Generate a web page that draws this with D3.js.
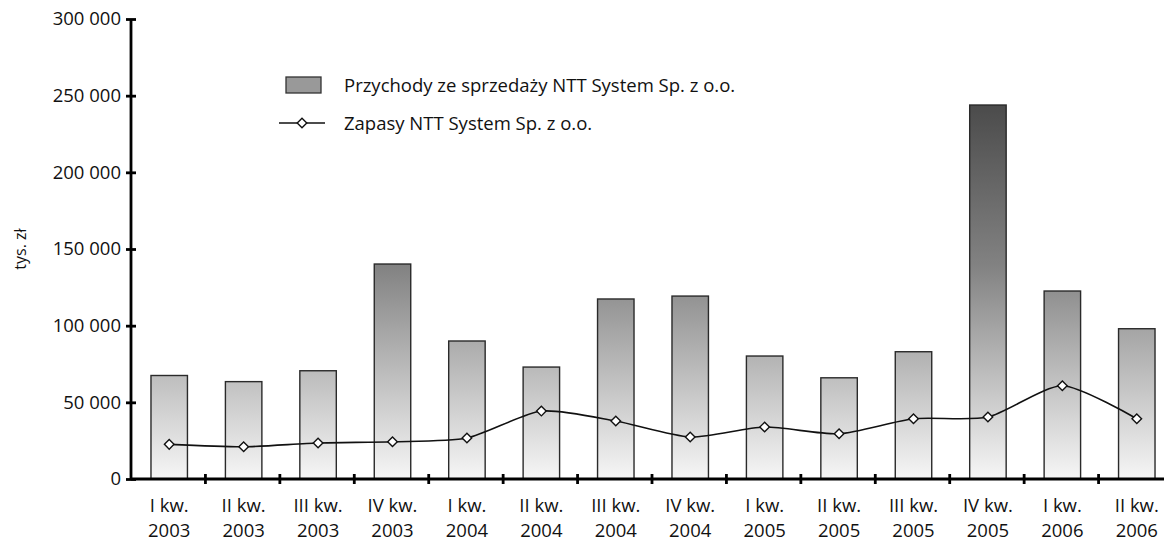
<!DOCTYPE html>
<html>
<head>
<meta charset="utf-8">
<script src="https://cdn.jsdelivr.net/npm/d3@7"></script>
<style>
  body { margin: 0; background: #fff; }
  svg, svg text { font-family: "Open Sans", sans-serif; }
</style>
</head>
<body>
<svg id="chart"></svg>
<script>
const quarters = ["I kw.", "II kw.", "III kw.", "IV kw.", "I kw.", "II kw.", "III kw.", "IV kw.", "I kw.", "II kw.", "III kw.", "IV kw.", "I kw.", "II kw."]
const years = ["2003", "2003", "2003", "2003", "2004", "2004", "2004", "2004", "2005", "2005", "2005", "2005", "2006", "2006"]
const przychody = [67500, 63500, 70600, 140200, 90000, 73000, 117400, 119300, 80200, 66000, 83000, 243900, 122600, 98000]
const zapasy = [22600, 21000, 23500, 24300, 26700, 44300, 37800, 27400, 33900, 29500, 39300, 40400, 60800, 39300]
const yTicks = [0, 50000, 100000, 150000, 200000, 250000, 300000]
const seriesNames = ["Przychody ze sprzedaży NTT System Sp. z o.o.", "Zapasy NTT System Sp. z o.o."]

const width = 1164, height = 542
const margin = {top: 19, right: -9, bottom: 63, left: 131}
const fontSize = 18.5

const locale = d3.formatLocale({decimal: ",", thousands: " ", grouping: [3], currency: ["", " zł"]})
const fmt = locale.format(",d")

const svg = d3.select("#chart").attr("width", width).attr("height", height)

const labels = quarters.map((q, i) => `${q}|${years[i]}`)

const x = d3.scaleBand()
    .domain(labels)
    .range([margin.left + 1, width - margin.right + 1])
    .paddingInner(0.51)
    .paddingOuter(0.255)

const xTicks = d3.scaleBand().domain(labels).range([margin.left, width - margin.right])

const y = d3.scaleLinear()
    .domain([0, 300000])
    .range([height - margin.bottom, margin.top])

// shading follows the value axis, same for every bar
const defs = svg.append("defs")
const grad = defs.append("linearGradient")
    .attr("id", "barGrad")
    .attr("gradientUnits", "userSpaceOnUse")
    .attr("x1", 0).attr("x2", 0)
    .attr("y1", y(0)).attr("y2", y(244000))
grad.append("stop").attr("offset", "0%").attr("stop-color", "#f6f6f6")
grad.append("stop").attr("offset", "57%").attr("stop-color", "#828282")
grad.append("stop").attr("offset", "100%").attr("stop-color", "#4b4b4b")

// bars
svg.append("g")
    .selectAll("rect")
    .data(przychody)
    .join("rect")
    .attr("x", (d, i) => x(labels[i]))
    .attr("width", x.bandwidth())
    .attr("y", d => y(d))
    .attr("height", d => y(0) - y(d))
    .attr("fill", "url(#barGrad)")
    .attr("stroke", "#2a2a2a")
    .attr("stroke-width", 1.4)

// y axis
const yAxis = svg.append("g")
    .attr("transform", `translate(${margin.left},0)`)
    .call(d3.axisLeft(y).tickValues(yTicks).tickFormat(fmt).tickSize(5).tickPadding(6))
    .attr("font-family", null)
    .attr("font-size", null)
yAxis.select(".domain").attr("stroke-width", 2.8).attr("d", `M0,${y(300000)}V${y(0)}`)
yAxis.selectAll(".tick line").attr("x2", 5).attr("x1", -5).attr("stroke-width", 2.8)
yAxis.selectAll(".tick text").attr("font-size", fontSize).attr("fill", "#111").attr("x", -10)

// x axis
const xAxis = svg.append("g")
    .attr("transform", `translate(0,${y(0)})`)
xAxis.append("line")
    .attr("x1", margin.left).attr("x2", width)
    .attr("stroke", "#000").attr("stroke-width", 2.8)
xAxis.selectAll("line.tick")
    .data(labels.slice(1))
    .join("line")
    .attr("class", "tick")
    .attr("x1", d => xTicks(d)).attr("x2", d => xTicks(d))
    .attr("y1", -5).attr("y2", 5)
    .attr("stroke", "#000").attr("stroke-width", 2.8)
const xl = xAxis.selectAll("text")
    .data(labels)
    .join("text")
    .attr("text-anchor", "middle")
    .attr("font-size", fontSize)
    .attr("fill", "#111")
xl.append("tspan")
    .attr("x", d => x(d) + x.bandwidth() / 2)
    .attr("y", 33)
    .text(d => d.split("|")[0])
xl.append("tspan")
    .attr("x", d => x(d) + x.bandwidth() / 2)
    .attr("y", 58)
    .text(d => d.split("|")[1])

// y label
svg.append("text")
    .attr("transform", `translate(26,${(y(0) + y(300000)) / 2}) rotate(-90)`)
    .attr("text-anchor", "middle")
    .attr("font-size", 16)
    .attr("fill", "#111")
    .text("tys. zł")

// line
const cx = i => x(labels[i]) + x.bandwidth() / 2
const line = d3.line()
    .x((d, i) => cx(i))
    .y(d => y(d))
    .curve(d3.curveCardinal.tension(0.3))
svg.append("path")
    .datum(zapasy)
    .attr("d", line)
    .attr("fill", "none")
    .attr("stroke", "#111")
    .attr("stroke-width", 1.6)

const diamond = d3.symbol().type(d3.symbolSquare).size(46)
svg.append("g")
    .selectAll("path")
    .data(zapasy)
    .join("path")
    .attr("d", diamond)
    .attr("transform", (d, i) => `translate(${cx(i)},${y(d)}) rotate(45)`)
    .attr("fill", "#fff")
    .attr("stroke", "#111")
    .attr("stroke-width", 1.4)

// legend
const legend = svg.append("g")
legend.append("rect")
    .attr("x", 286).attr("y", 77).attr("width", 35).attr("height", 16)
    .attr("fill", "#999").attr("stroke", "#333").attr("stroke-width", 1.3)
legend.append("line")
    .attr("x1", 279).attr("x2", 325).attr("y1", 123).attr("y2", 123)
    .attr("stroke", "#111").attr("stroke-width", 1.6)
legend.append("path")
    .attr("d", diamond)
    .attr("transform", "translate(302,123) rotate(45)")
    .attr("fill", "#fff").attr("stroke", "#111").attr("stroke-width", 1.4)
legend.selectAll("text")
    .data(seriesNames)
    .join("text")
    .attr("x", 344)
    .attr("y", (d, i) => 92 + i * 38)
    .attr("font-size", fontSize)
    .attr("fill", "#111")
    .text(d => d)
</script>
</body>
</html>
